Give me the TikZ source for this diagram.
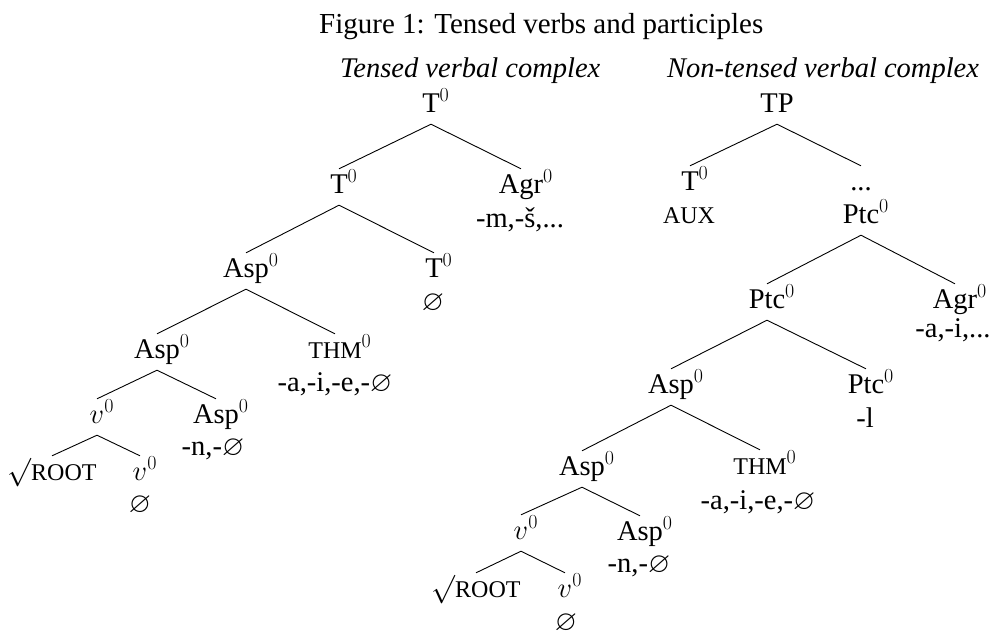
\RequirePackage{fix-cm}
\documentclass[tikz,border=0pt]{standalone}
\usepackage{amssymb}
\usepackage{fontspec}
\setmainfont{Liberation Serif}

% zero-width superscript so that a category is centred on its main letters
\newcommand{\zsup}{\rlap{$^{0}$}}
% imitation small capitals
\newcommand{\fakesc}[1]{{\fontsize{24}{24}\selectfont #1}}
\newcommand{\nul}{$\varnothing$}
\newcommand{\rootlabel}{$\surd$\fakesc{ROOT}}

\tikzset{
  cat/.style={inner sep=0pt, text height=24pt, text depth=12pt, anchor=base},
  morph/.style={inner sep=0pt, anchor=base},
  heading/.style={inner sep=0pt, anchor=base west},
  branch/.style={line width=0.9pt, black},
}

\begin{document}
\begin{tikzpicture}[x=1pt, y=-1pt, font=\fontsize{28.5}{34}\selectfont]
\useasboundingbox[fill=white] (0,0) rectangle (994,630);

% headings
\node[heading, font=\fontsize{29}{34}\selectfont] (title) at (319,33) {Figure 1: Tensed verbs and participles};
\node[heading] (hleft) at (340,77) {\itshape Tensed verbal complex};
\node[heading] (hright) at (667,77) {\itshape Non-tensed verbal complex};

% ---------- tensed verbal complex ----------
\node[cat] (lT1)   at (431,112) {T\zsup};
\node[cat] (lT2)   at (339,193) {T\zsup};
\node[cat] (lAgr)  at (521,193) {Agr\zsup};
\node[morph] (lAgrM) at (520,227) {-m,-š,...};
\node[cat] (lAsp1) at (246,277) {Asp\zsup};
\node[cat] (lT3)   at (434,277) {T\zsup};
\node[morph] (lT3M) at (433,310) {\nul};
\node[cat] (lAsp2) at (157,358) {Asp\zsup};
\node[cat] (lThm)  at (335,358) {\fakesc{THM}\zsup};
\node[morph] (lThmM) at (335,391) {-a,-i,-e,-\nul};
\node[cat] (lv1)   at (97,423) {$v$\zsup};
\node[cat] (lAsp3) at (216,423) {Asp\zsup};
\node[morph] (lAsp3M) at (213,455) {-n,-\nul};
\node[cat] (lRoot) at (52,480) {\rootlabel};
\node[cat] (lv2)   at (140,480) {$v$\zsup};
\node[morph] (lv2M) at (140,512) {\nul};

\draw[branch] (lT1.south) -- (lT2.north);
\draw[branch] (lT1.south) -- (lAgr.north);
\draw[branch] (lT2.south) -- (lAsp1.north);
\draw[branch] (lT2.south) -- (lT3.north);
\draw[branch] (lAsp1.south) -- (lAsp2.north);
\draw[branch] (lAsp1.south) -- (lThm.north);
\draw[branch] (lAsp2.south) -- (lv1.north);
\draw[branch] (lAsp2.south) -- (lAsp3.north);
\draw[branch] (lv1.south) -- (lRoot.north);
\draw[branch] (lv1.south) -- (lv2.north);

% ---------- non-tensed verbal complex ----------
\node[cat] (rTP)   at (777,112) {TP};
\node[cat] (rT)    at (690,190) {T\zsup};
\node[morph] (rTM) at (689,223) {\fakesc{AUX}};
\node[cat] (rDots) at (861,190) {...};
\node[cat] (rPtc1) at (861,223) {Ptc\zsup};
\node[cat] (rPtc2) at (767,308) {Ptc\zsup};
\node[cat] (rAgr)  at (955,308) {Agr\zsup};
\node[morph] (rAgrM) at (953,337) {-a,-i,...};
\node[cat] (rAsp1) at (671,393) {Asp\zsup};
\node[cat] (rPtc3) at (866,393) {Ptc\zsup};
\node[morph] (rPtc3M) at (865,427) {-l};
\node[cat] (rAsp2) at (582,475) {Asp\zsup};
\node[cat] (rThm)  at (760,474) {\fakesc{THM}\zsup};
\node[morph] (rThmM) at (758,509) {-a,-i,-e,-\nul};
\node[cat] (rv1)   at (521,539) {$v$\zsup};
\node[cat] (rAsp3) at (640,540) {Asp\zsup};
\node[morph] (rAsp3M) at (639,572) {-n,-\nul};
\node[cat] (rRoot) at (476,597) {\rootlabel};
\node[cat] (rv2)   at (565,597) {$v$\zsup};
\node[morph] (rv2M) at (566,630) {\nul};

\draw[branch] (rTP.south) -- (rT.north);
\draw[branch] (rTP.south) -- (rDots.north);
\draw[branch] (rPtc1.south) -- (rPtc2.north);
\draw[branch] (rPtc1.south) -- (rAgr.north);
\draw[branch] (rPtc2.south) -- (rAsp1.north);
\draw[branch] (rPtc2.south) -- (rPtc3.north);
\draw[branch] (rAsp1.south) -- (rAsp2.north);
\draw[branch] (rAsp1.south) -- (rThm.north);
\draw[branch] (rAsp2.south) -- (rv1.north);
\draw[branch] (rAsp2.south) -- (rAsp3.north);
\draw[branch] (rv1.south) -- (rRoot.north);
\draw[branch] (rv1.south) -- (rv2.north);
\end{tikzpicture}
\end{document}
